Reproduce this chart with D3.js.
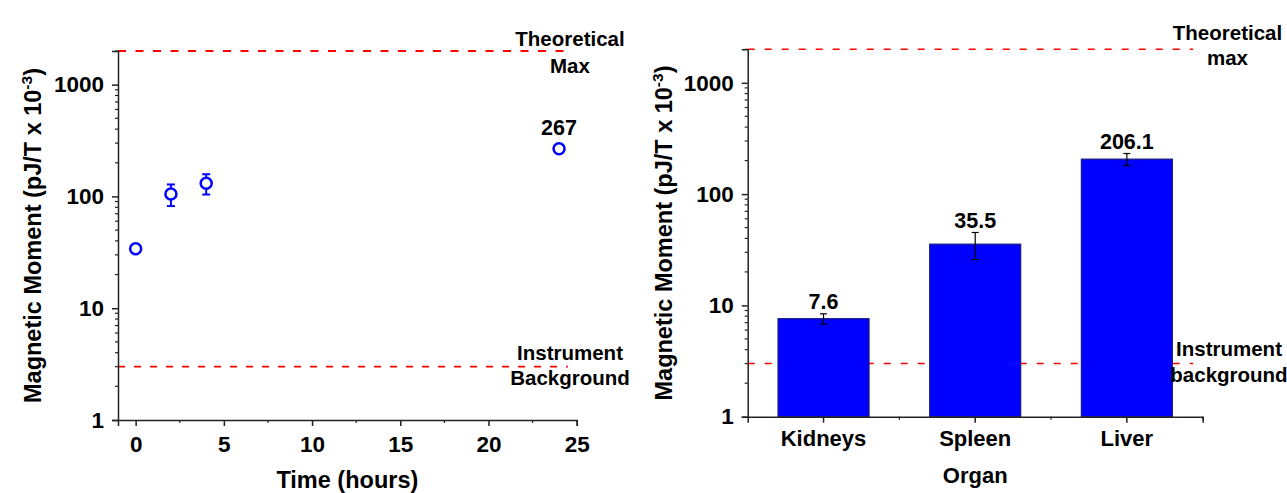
<!DOCTYPE html>
<html>
<head>
<meta charset="utf-8">
<script src="https://cdn.jsdelivr.net/npm/d3@7"></script>
<style>
  body { margin: 0; background: #fff; }
  svg text { font-family: "Liberation Sans", Arial, sans-serif; font-weight: bold; fill: #000; }
</style>
</head>
<body>
<svg id="chart" width="1287" height="493"></svg>
<script>
// left panel: time course
const times = [0, 2, 4, 24];
const moments = [34, 105, 131, 267];
const momentErrors = [0, 23, 27, 0];
const timeTicks = [0, 5, 10, 15, 20, 25];
const timeMinorTicks = [2.5, 7.5, 12.5, 17.5, 22.5];

// right panel: organs
const organs = ["Kidneys", "Spleen", "Liver"];
const organMoments = [7.6, 35.5, 206.1];
const organErrors = [0.8, 9.7, 25.5];

const logTicks = [1, 10, 100, 1000];
const theoreticalMax = 2000;
const instrumentBackground = 3;

const svg = d3.select("#chart");
const axisColor = "#222";
const blue = "#0000ff";
const red = "#ff0000";

// minor log ticks 2..9 per decade
const minorLog = [];
[1, 10, 100, 1000].forEach(function (d) {
  for (let k = 2; k <= 9; k++) {
    if (d * k <= theoreticalMax) minorLog.push(d * k);
  }
});

function drawYAxis(g, y, x0) {
  const yAxis = d3.axisLeft(y).tickValues(logTicks).tickFormat(d3.format("d")).tickSize(6).tickPadding(8);
  const yAxisG = g.append("g").attr("transform", `translate(${x0},0)`).call(yAxis);
  yAxisG.select(".domain").attr("stroke", axisColor).attr("stroke-width", 1.5);
  yAxisG.selectAll(".tick line").attr("stroke", axisColor).attr("stroke-width", 1.5);
  yAxisG.selectAll(".tick text").attr("font-size", 22.5).attr("fill", "#000");
  yAxisG.selectAll(".minor-y")
    .data(minorLog)
    .enter()
    .append("line")
    .attr("class", "minor-y")
    .attr("x1", -3)
    .attr("x2", 0)
    .attr("y1", (d) => y(d))
    .attr("y2", (d) => y(d))
    .attr("stroke", axisColor)
    .attr("stroke-width", 1.2);
}

function yTitle(g, x, yCenter) {
  const t = g.append("text")
    .attr("transform", `translate(${x},${yCenter}) rotate(-90)`)
    .attr("text-anchor", "middle")
    .attr("font-size", 23.5);
  t.append("tspan").text("Magnetic Moment (pJ/T x 10");
  t.append("tspan").attr("dy", -9).attr("font-size", 15.5).text("-3");
  t.append("tspan").attr("dy", 9).text(")");
}

function refLine(g, y, xa, xb, value, width, dash) {
  g.append("line")
    .attr("x1", xa)
    .attr("x2", xb)
    .attr("y1", y(value))
    .attr("y2", y(value))
    .attr("stroke", red)
    .attr("stroke-width", width)
    .attr("stroke-dasharray", dash);
}

function label2(g, x, yBase, lines, gap) {
  lines.forEach(function (s, i) {
    g.append("text")
      .attr("x", x)
      .attr("y", yBase + i * gap)
      .attr("text-anchor", "middle")
      .attr("font-size", 20.5)
      .text(s);
  });
}

// ---------- left panel ----------
const L = { left: 118, right: 576.7, top: 51, bottom: 420 };
const gL = svg.append("g");

const xL = d3.scaleLinear().domain([-1, 25]).range([L.left, L.right]);
const yL = d3.scaleLog().domain([1, theoreticalMax]).range([L.bottom, L.top]);

refLine(gL, yL, L.left, xL(24.5), theoreticalMax, 2, "8,9.5");
refLine(gL, yL, L.left, xL(24.5), instrumentBackground, 1.6, "7,9");

drawYAxis(gL, yL, L.left);

const xAxisL = d3.axisBottom(xL).tickValues(timeTicks).tickSize(6).tickPadding(10);
const xAxisLG = gL.append("g").attr("transform", `translate(0,${L.bottom})`).call(xAxisL);
xAxisLG.select(".domain").attr("stroke", axisColor).attr("stroke-width", 1.5);
xAxisLG.selectAll(".tick line").attr("stroke", axisColor).attr("stroke-width", 1.5);
xAxisLG.selectAll(".tick text").attr("font-size", 22.5).attr("fill", "#000");
gL.selectAll(".minor-x")
  .data(timeMinorTicks)
  .enter()
  .append("line")
  .attr("class", "minor-x")
  .attr("x1", (d) => xL(d))
  .attr("x2", (d) => xL(d))
  .attr("y1", L.bottom)
  .attr("y2", L.bottom + 3)
  .attr("stroke", axisColor)
  .attr("stroke-width", 1.2);

gL.append("text")
  .attr("x", (L.left + L.right) / 2)
  .attr("y", L.bottom + 68)
  .attr("text-anchor", "middle")
  .attr("font-size", 23.5)
  .text("Time (hours)");

yTitle(gL, 41, (L.top + L.bottom) / 2);

// error bars
const pts = times.map((t, i) => ({ t: t, v: moments[i], e: momentErrors[i] })).filter((d) => d.e > 0);
const eb = gL.selectAll(".eb").data(pts).enter().append("g").attr("stroke", blue).attr("stroke-width", 2);
eb.append("line")
  .attr("x1", (d) => xL(d.t)).attr("x2", (d) => xL(d.t))
  .attr("y1", (d) => yL(d.v + d.e)).attr("y2", (d) => yL(d.v - d.e));
eb.append("line")
  .attr("x1", (d) => xL(d.t) - 4).attr("x2", (d) => xL(d.t) + 4)
  .attr("y1", (d) => yL(d.v + d.e)).attr("y2", (d) => yL(d.v + d.e));
eb.append("line")
  .attr("x1", (d) => xL(d.t) - 4).attr("x2", (d) => xL(d.t) + 4)
  .attr("y1", (d) => yL(d.v - d.e)).attr("y2", (d) => yL(d.v - d.e));

gL.selectAll(".pt")
  .data(times)
  .enter()
  .append("circle")
  .attr("class", "pt")
  .attr("cx", (d) => xL(d))
  .attr("cy", (d, i) => yL(moments[i]))
  .attr("r", 5.5)
  .attr("fill", "#fff")
  .attr("stroke", blue)
  .attr("stroke-width", 2.5);

gL.append("text")
  .attr("x", xL(times[3]))
  .attr("y", yL(moments[3]) - 14)
  .attr("text-anchor", "middle")
  .attr("font-size", 21.5)
  .text(moments[3]);

label2(gL, 570, yL(theoreticalMax) - 5, ["Theoretical", "Max"], 26.7);
label2(gL, 570, yL(instrumentBackground) - 6.7, ["Instrument", "Background"], 25);

// ---------- right panel ----------
const R = { left: 747.7, right: 1202.7, top: 49.3, bottom: 416.7 };
const gR = svg.append("g");

const xR = d3.scaleBand().domain(organs).range([R.left, R.right]).padding(0);
const yR = d3.scaleLog().domain([1, theoreticalMax]).range([R.bottom, R.top]);

refLine(gR, yR, R.left, 1193, theoreticalMax, 1.5, "7,10");
refLine(gR, yR, R.left, 1193, instrumentBackground, 1.5, "7,10");

const bw = xR.bandwidth() * 0.6;
gR.selectAll(".bar")
  .data(organs)
  .enter()
  .append("rect")
  .attr("class", "bar")
  .attr("x", (d) => xR(d) + (xR.bandwidth() - bw) / 2)
  .attr("y", (d, i) => yR(organMoments[i]))
  .attr("width", bw)
  .attr("height", (d, i) => R.bottom - yR(organMoments[i]))
  .attr("fill", blue)
  .attr("stroke", "#1a1a80")
  .attr("stroke-width", 1.2);

const ebR = gR.selectAll(".ebr").data(organs).enter().append("g").attr("stroke", "#000").attr("stroke-width", 1.2);
const cx = (d) => xR(d) + xR.bandwidth() / 2;
ebR.append("line")
  .attr("x1", cx).attr("x2", cx)
  .attr("y1", (d, i) => yR(organMoments[i] + organErrors[i]))
  .attr("y2", (d, i) => yR(organMoments[i] - organErrors[i]));
ebR.append("line")
  .attr("x1", (d) => cx(d) - 3.5).attr("x2", (d) => cx(d) + 3.5)
  .attr("y1", (d, i) => yR(organMoments[i] + organErrors[i]))
  .attr("y2", (d, i) => yR(organMoments[i] + organErrors[i]));
ebR.append("line")
  .attr("x1", (d) => cx(d) - 3.5).attr("x2", (d) => cx(d) + 3.5)
  .attr("y1", (d, i) => yR(organMoments[i] - organErrors[i]))
  .attr("y2", (d, i) => yR(organMoments[i] - organErrors[i]));

gR.selectAll(".val")
  .data(organs)
  .enter()
  .append("text")
  .attr("class", "val")
  .attr("x", cx)
  .attr("y", (d, i) => yR(organMoments[i] + organErrors[i]) - 4.5)
  .attr("text-anchor", "middle")
  .attr("font-size", 21.5)
  .text((d, i) => organMoments[i]);

drawYAxis(gR, yR, R.left);

const xAxisR = d3.axisBottom(xR).tickSize(6).tickPadding(8);
const xAxisRG = gR.append("g").attr("transform", `translate(0,${R.bottom})`).call(xAxisR);
xAxisRG.select(".domain").attr("stroke", axisColor).attr("stroke-width", 1.5);
xAxisRG.selectAll(".tick line").attr("stroke", axisColor).attr("stroke-width", 1.5);
xAxisRG.selectAll(".tick text").attr("font-size", 22).attr("fill", "#000");
// boundary ticks between categories
gR.selectAll(".btick")
  .data(organs.slice(1).map((d) => xR(d)).concat([R.right]))
  .enter()
  .append("line")
  .attr("class", "btick")
  .attr("x1", (d) => d)
  .attr("x2", (d) => d)
  .attr("y1", R.bottom)
  .attr("y2", R.bottom + 3)
  .attr("stroke", axisColor)
  .attr("stroke-width", 1.2);

gR.append("text")
  .attr("x", (R.left + R.right) / 2)
  .attr("y", R.bottom + 66)
  .attr("text-anchor", "middle")
  .attr("font-size", 22)
  .text("Organ");

yTitle(gR, 672, (R.top + R.bottom) / 2);

label2(gR, 1227.5, yR(theoreticalMax) - 9.3, ["Theoretical", "max"], 25);
label2(gR, 1229, yR(instrumentBackground) - 7.6, ["Instrument", "background"], 25.6);
</script>
</body>
</html>
